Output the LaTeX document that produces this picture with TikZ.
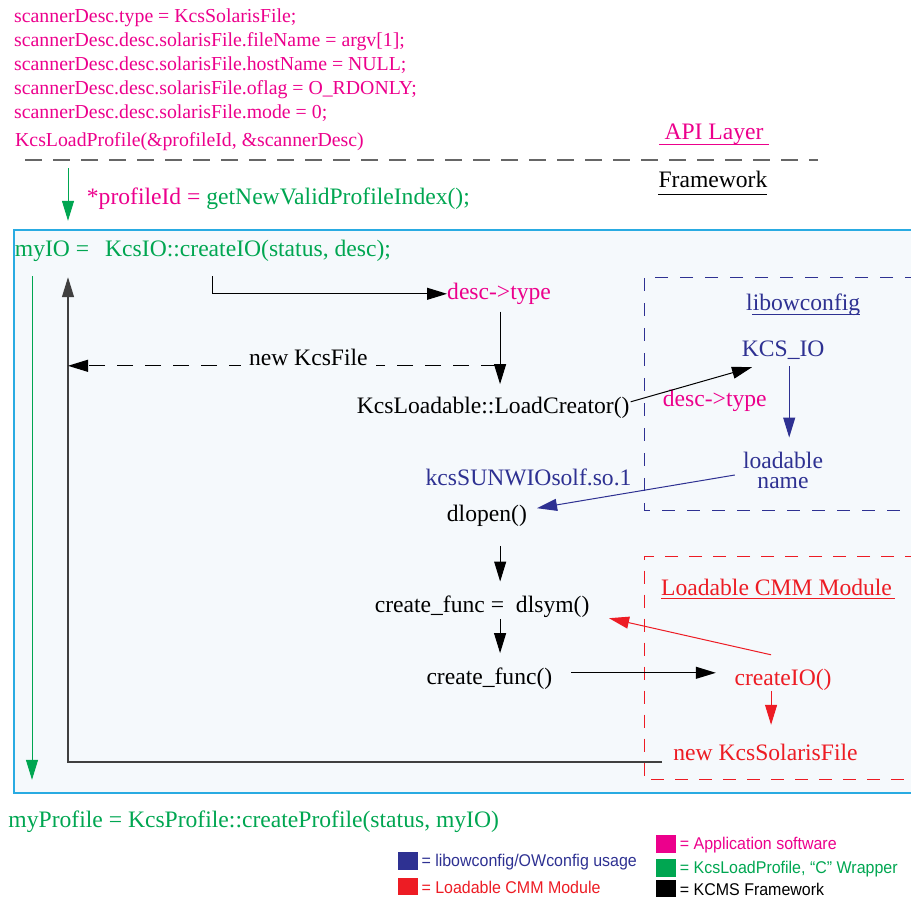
\documentclass[tikz,border=0pt]{standalone}
\usepackage{fontspec}
\setmainfont{Liberation Serif}
\newfontfamily\legendfont[FakeStretch=0.94]{Liberation Sans}
\usetikzlibrary{arrows.meta,calc}
\definecolor{appmag}{HTML}{EC008C}
\definecolor{wrapgreen}{HTML}{00A651}
\definecolor{cfgblue}{HTML}{2E3192}
\definecolor{cmmred}{HTML}{ED1C24}
\definecolor{boxcyan}{HTML}{29ABE2}
\definecolor{boxbg}{HTML}{F5F9FC}
\definecolor{sepgray}{HTML}{666666}
\newcommand\mainfs{\fontsize{23.6}{26}\selectfont}
\newcommand\tightfs{\fontsize{23.6}{20}\selectfont}
\newcommand\codefs{\fontsize{19.8}{24}\selectfont}
\newcommand\legfs{\legendfont\fontsize{17}{20}\selectfont}
\begin{document}
\begin{tikzpicture}[x=1pt,y=-1pt,
  txt/.style={inner sep=0pt, anchor=base west, font=\mainfs, text height=16pt, text depth=5pt},
  ctxt/.style={txt, anchor=base},
  code/.style={inner sep=0pt, anchor=base west, font=\codefs, text=appmag, text height=13.5pt, text depth=4.3pt},
  leg/.style={inner sep=0pt, anchor=base west, font=\legfs},
  sq/.style={anchor=north west, inner sep=0pt, minimum width=19.7pt, minimum height=18pt},
  headed/.style={-{Triangle[length=20pt,width=12pt]}},
  arr/.style={headed, line width=1pt, draw=black},
  garr/.style={headed, line width=1pt, draw=wrapgreen},
  barr/.style={headed, line width=1pt, draw=cfgblue},
  rarr/.style={headed, line width=1pt, draw=cmmred},
  retarr/.style={headed, line width=1.3pt, draw=black!75},
  dasharr/.style={headed, line width=1pt, draw=black, dash pattern=on 16pt off 12pt},
  ul/.style={line width=1pt},
]
\useasboundingbox (0,0) rectangle (911,899);

% framework region
\draw[boxcyan, fill=boxbg, line width=1.2pt] (14,230) rectangle (918,793);
% libowconfig region
\draw[cfgblue, line width=1pt, dash pattern=on 13pt off 12pt] (918,277) -- (644,277) -- (644,510) -- (918,510);
% loadable CMM module region
\draw[cmmred, line width=1pt, dash pattern=on 13pt off 11pt] (918,556.7) -- (644,556.7) -- (644,779.3) -- (918,779.3);

% API / framework separator
\coordinate (sepL) at (25,160);
\coordinate (sepR) at (818,160);
\draw[sepgray, line width=1.5pt, dash pattern=on 17pt off 11pt] (sepL) -- (sepR);

% application code
\node[code] (c1) at (14,22.7) {scannerDesc.type = KcsSolarisFile;};
\node[code] (c2) at (14,46.7) {scannerDesc.desc.solarisFile.fileName = argv[1];};
\node[code] (c3) at (14,70.7) {scannerDesc.desc.solarisFile.hostName = NULL;};
\node[code] (c4) at (14,94.3) {scannerDesc.desc.solarisFile.oflag = O\_RDONLY;};
\node[code] (c5) at (14,118.7) {scannerDesc.desc.solarisFile.mode = 0;};
\node[code] (klp) at (15,146.7) {KcsLoadProfile(\&profileId, \&scannerDesc)};

% layer titles
\node[ctxt, text=appmag] (api) at (714,139.3) {API Layer};
\draw[ul, appmag] ([shift={(-5,5.2)}]api.base west) -- ([shift={(5,5.2)}]api.base east);
\node[ctxt, text=black] (fw) at (713,187.3) {Framework};
\draw[ul, black] ([shift={(0,6.7)}]fw.base west) -- ([shift={(-1,6.7)}]fw.base east);

\node[txt, text=wrapgreen] (pid) at (86.7,204) {{\color{appmag}*profileId =} getNewValidProfileIndex();};
\node[txt, text=wrapgreen] (myio) at (14.7,256) {myIO =};
\node[txt, text=wrapgreen] (cio) at (105,256) {KcsIO::createIO(status, desc);};

\node[txt, text=appmag] (dtype) at (447,299.3) {desc->type};
\node[txt] (lc) at (356.7,413.3) {KcsLoadable::LoadCreator()};
\node[txt, text=appmag] (dtype2) at (662.7,406.7) {desc->type};

\node[txt, text=cfgblue] (libow) at (746,310.7) {libowconfig};
\draw[ul, cfgblue] ([shift={(6,3.5)}]libow.base west) -- ([shift={(0,3.5)}]libow.base east);
\node[txt, text=cfgblue] (kcsio) at (741.7,356) {KCS\_IO};
\node[inner sep=0pt, anchor=center, align=center, font=\tightfs, text=cfgblue] (ld) at (783,470) {loadable\\name};
\node[txt, anchor=base east, text=cfgblue] (so) at (631.7,485) {kcsSUNWIOsolf.so.1};

\node[txt] (dl) at (446.7,521.7) {dlopen()};
\node[txt] (cf) at (374.6,612.7) {create\_func = \hspace{6pt}dlsym()};
\node[txt] (cfc) at (426.3,684.3) {create\_func()};

\node[txt, text=cmmred] (cmm) at (661,595) {Loadable CMM Module};
\draw[ul, cmmred] ([shift={(0,3)}]cmm.base west) -- ([shift={(3,3)}]cmm.base east);
\node[txt, text=cmmred] (cio2) at (734.4,685) {createIO()};
\node[txt, text=cmmred] (nksf) at (673.2,760) {new KcsSolarisFile};

\node[txt, text=wrapgreen] (mp) at (8.3,827) {myProfile = KcsProfile::createProfile(status, myIO)};

% connectors
\coordinate (g1s) at ([shift={(53,17)}]klp.south west);
\coordinate (g1e) at ([shift={(53.3,-19)}]myio.north west);
\draw[garr] (g1s) -- (g1e);

\coordinate (g2s) at ([shift={(17.3,15)}]myio.south west);
\draw[garr, shorten >=31pt] (g2s) -- (g2s |- mp.north);

\coordinate (ret) at ([shift={(53.3,16)}]myio.south west);
\coordinate (rets) at ([shift={(-11,7.5)}]nksf.west);
\draw[retarr] (rets) -| (ret);

\coordinate (k1s) at ([shift={(107,15)}]cio.south west);
\draw[arr] (k1s) |- (dtype.west);

\coordinate (a2s) at ([shift={(1,7)}]dtype.south);
\draw[arr, shorten >=13pt] (a2s) -- (a2s |- lc.north);

\coordinate (nkfs) at ([shift={(4,-31.3)}]lc.north);
\draw[dasharr] (nkfs) -- node[pos=0.44, anchor=base, fill=boxbg, inner xsep=8pt, inner ysep=3pt, font=\mainfs] (nkf) {new KcsFile} (nkfs -| ret);

\draw[arr] ([shift={(1,-6)}]lc.east) -- ([shift={(10.3,6)}]kcsio.south west);

\coordinate (b1s) at ([shift={(6,5)}]kcsio.south);
\draw[barr, shorten >=14pt] (b1s) -- (b1s |- ld.north);

\draw[barr] ([shift={(-8,5)}]ld.west) -- ([shift={(10,-8)}]dl.east);

\coordinate (d1s) at ([shift={(13.3,19)}]dl.south);
\draw[arr, shorten >=15pt] (d1s) -- (d1s |- cf.north);

\coordinate (d2s) at ([shift={(18,1)}]cf.south);
\draw[arr, shorten >=15pt] (d2s) -- (d2s |- cfc.north);

\coordinate (d3s) at ([shift={(19,-6)}]cfc.east);
\draw[arr, shorten >=18.6pt] (d3s) -- (d3s -| cio2.west);

\coordinate (r1s) at ([shift={(-12,0.7)}]cio2.south);
\draw[rarr, shorten >=19pt] (r1s) -- (r1s |- nksf.north);

\draw[rarr] ([shift={(-12,-14)}]cio2.north) -- ([shift={(19.5,11)}]cf.east);

% legend
\node[sq, fill=appmag] (lgm) at (656,835) {};
\node[leg, text=appmag] (lgmt) at (679.7,849.3) {= Application software};
\node[sq, fill=wrapgreen] (lgg) at (656,858.3) {};
\node[leg, text=wrapgreen] (lggt) at (679.7,873.3) {= KcsLoadProfile, “C” Wrapper};
\node[sq, fill=black, minimum height=17.4pt] (lgk) at (656,879.3) {};
\node[leg, text=black] (lgkt) at (679.7,895) {= KCMS Framework};
\node[sq, fill=cfgblue] (lgb) at (397.6,851.7) {};
\node[leg, text=cfgblue] (lgbt) at (421.3,866.7) {= libowconfig/OWconfig usage};
\node[sq, fill=cmmred, minimum height=17.7pt] (lgr) at (397.6,877.3) {};
\node[leg, text=cmmred] (lgrt) at (421.3,893.3) {= Loadable CMM Module};
\end{tikzpicture}
\end{document}
